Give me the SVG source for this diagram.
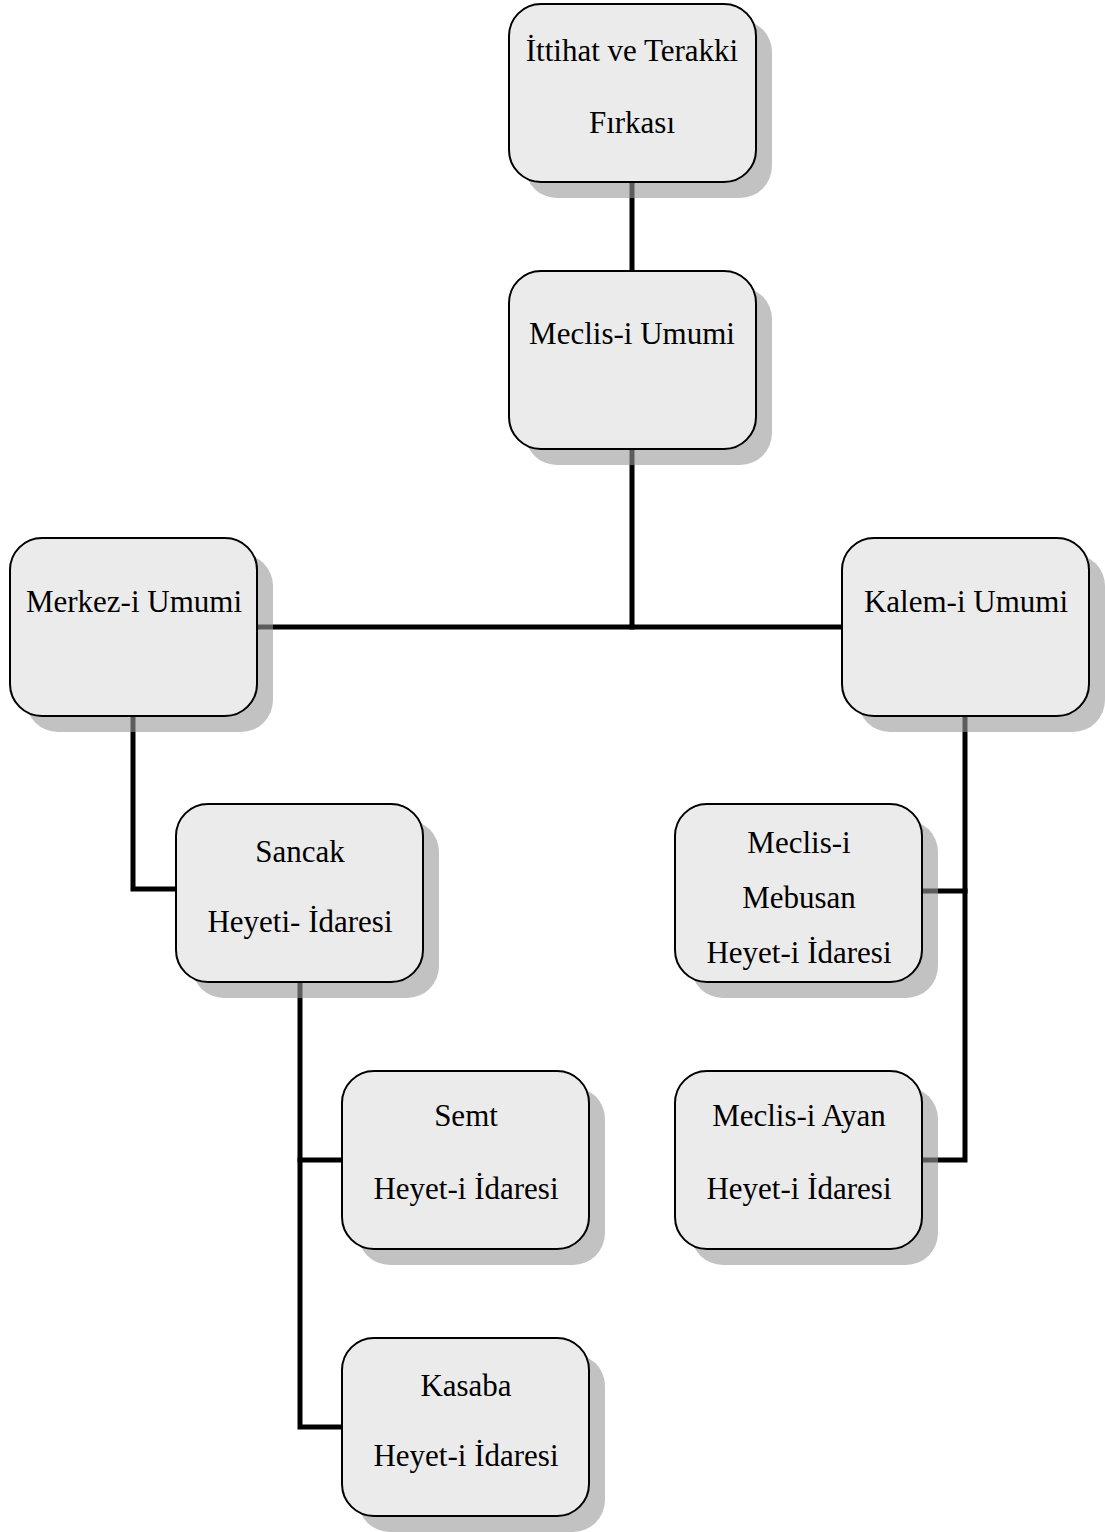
<svg xmlns="http://www.w3.org/2000/svg" width="1105" height="1532" viewBox="0 0 1105 1532">
<style>
.sh{fill:#9a9a9a;opacity:0.6}
.bx{fill:#ebebeb;stroke:#000;stroke-width:2}
.t{font-family:"Liberation Serif",serif;font-size:31px;fill:#000;text-anchor:middle}
.c{fill:none;stroke:#000;stroke-width:5;stroke-linecap:square}
</style>
<defs>
<rect id="nb" x="0" y="0" width="247" height="178" rx="32" ry="32"/>
</defs>
<rect width="1105" height="1532" fill="#fff"/>
<g id="connectors">
<path class="c" d="M632,182 V271"/>
<path class="c" d="M632,448 V627"/>
<path class="c" d="M259,627 H841"/>
<path class="c" d="M133,715 V889 H176"/>
<path class="c" d="M300,982 V1427 H342"/>
<path class="c" d="M300,1160 H342"/>
<path class="c" d="M965,715 V1160 H922"/>
<path class="c" d="M965,891 H922"/>
</g>
<g id="n1"><use href="#nb" class="sh" x="525" y="20"/><use href="#nb" class="bx" x="509" y="4"/>
<text class="t" x="632" y="61">İttihat ve Terakki</text><text class="t" x="632" y="133">Fırkası</text></g>
<g id="n2"><use href="#nb" class="sh" x="525" y="287"/><use href="#nb" class="bx" x="509" y="271"/>
<text class="t" x="632" y="344">Meclis-i Umumi</text></g>
<g id="n3"><use href="#nb" class="sh" x="26" y="554"/><use href="#nb" class="bx" x="10" y="538"/>
<text class="t" x="134" y="612">Merkez-i Umumi</text></g>
<g id="n4"><use href="#nb" class="sh" x="858" y="554"/><use href="#nb" class="bx" x="842" y="538"/>
<text class="t" x="966" y="612">Kalem-i Umumi</text></g>
<g id="n5"><use href="#nb" class="sh" x="192" y="820"/><use href="#nb" class="bx" x="176" y="804"/>
<text class="t" x="300" y="862">Sancak</text><text class="t" x="300" y="932">Heyeti- İdaresi</text></g>
<g id="n6"><use href="#nb" class="sh" x="691" y="820"/><use href="#nb" class="bx" x="675" y="804"/>
<text class="t" x="799" y="853">Meclis-i</text><text class="t" x="799" y="908">Mebusan</text><text class="t" x="799" y="963">Heyet-i İdaresi</text></g>
<g id="n7"><use href="#nb" class="sh" x="358" y="1087"/><use href="#nb" class="bx" x="342" y="1071"/>
<text class="t" x="466" y="1126">Semt</text><text class="t" x="466" y="1199">Heyet-i İdaresi</text></g>
<g id="n8"><use href="#nb" class="sh" x="691" y="1087"/><use href="#nb" class="bx" x="675" y="1071"/>
<text class="t" x="799" y="1126">Meclis-i Ayan</text><text class="t" x="799" y="1199">Heyet-i İdaresi</text></g>
<g id="n9"><use href="#nb" class="sh" x="358" y="1354"/><use href="#nb" class="bx" x="342" y="1338"/>
<text class="t" x="466" y="1396">Kasaba</text><text class="t" x="466" y="1466">Heyet-i İdaresi</text></g>
</svg>
